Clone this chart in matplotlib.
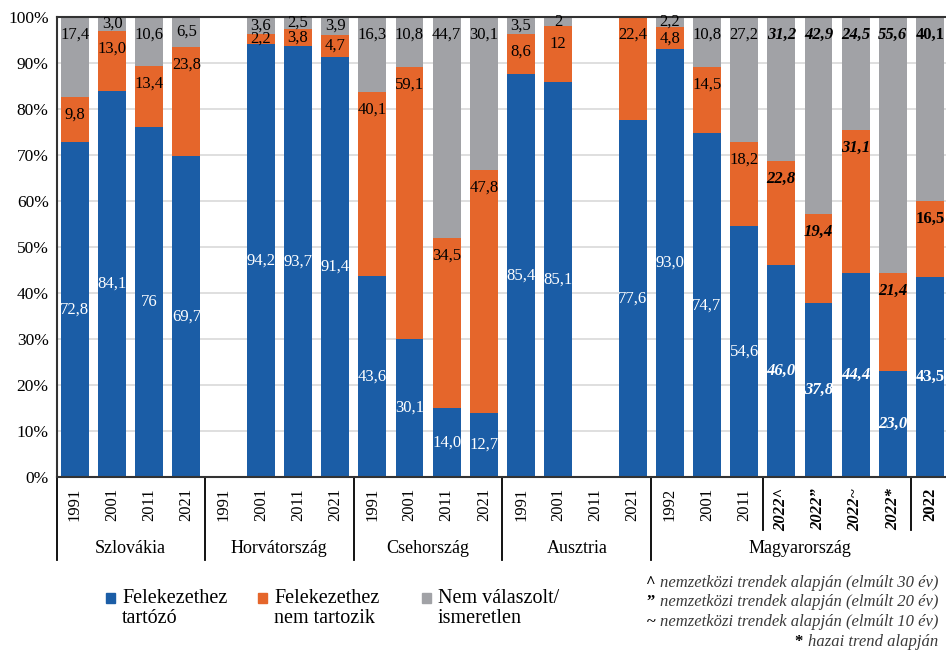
import numpy as np
import matplotlib
import matplotlib.pyplot as plt
from matplotlib.patches import Rectangle
from matplotlib.transforms import blended_transform_factory

matplotlib.use("Agg")

plt.rcParams["font.family"] = ["Liberation Serif", "DejaVu Serif"]

# Categories (one bar per year / scenario)
years = ["1991", "2001", "2011", "2021",
         "1991", "2001", "2011", "2021",
         "1991", "2001", "2011", "2021",
         "1991", "2001", "2011", "2021",
         "1992", "2001", "2011", "2022^", "2022\u201d", "2022~", "2022*", "2022"]
countries = ["Szlovákia", "Horvátország", "Csehország", "Ausztria", "Magyarország"]
group_sizes = [4, 4, 4, 4, 8]

# Series values (None = no data); labels kept as printed in the source
tartozo = ["72,8", "84,1", "76", "69,7",
           None, "94,2", "93,7", "91,4",
           "43,6", "30,1", "14,0", "12,7",
           "85,4", "85,1", None, "77,6",
           "93,0", "74,7", "54,6", "46,0", "37,8", "44,4", "23,0", "43,5"]
nem_tartozik = ["9,8", "13,0", "13,4", "23,8",
                None, "2,2", "3,8", "4,7",
                "40,1", "59,1", "34,5", "47,8",
                "8,6", "12", None, "22,4",
                "4,8", "14,5", "18,2", "22,8", "19,4", "31,1", "21,4", "16,5"]
nem_valaszolt = ["17,4", "3,0", "10,6", "6,5",
                 None, "3,6", "2,5", "3,9",
                 "16,3", "10,8", "44,7", "30,1",
                 "3,5", "2", None, None,
                 "2,2", "10,8", "27,2", "31,2", "42,9", "24,5", "55,6", "40,1"]

series_names = ["Felekezethez\ntartózó", "Felekezethez\nnem tartozik", "Nem válaszolt/\nismeretlen"]
colors = ["#1B5DA6", "#E5662B", "#A1A2A6"]

footnotes = [("^", "nemzetközi trendek alapján (elmúlt 30 év)"),
             ("\u201d", "nemzetközi trendek alapján (elmúlt 20 év)"),
             ("~", "nemzetközi trendek alapján (elmúlt 10 év)"),
             ("*", "hazai trend alapján")]


def to_num(s):
    return 0.0 if s is None else float(s.replace(",", "."))


raw = np.array([[to_num(v) for v in col] for col in (tartozo, nem_tartozik, nem_valaszolt)])
labels = [tartozo, nem_tartozik, nem_valaszolt]
totals = raw.sum(axis=0)
totals[totals == 0] = 1
pct = raw / totals * 100  # 100% stacked

n = len(years)
x = np.arange(n)
x_left = -0.48

fig = plt.figure(figsize=(9.46, 6.5), dpi=100)
ax = fig.add_axes([57 / 946, 173 / 650, 889 / 946, 460 / 650])

bottom = np.zeros(n)
for k in range(3):
    ax.bar(x, pct[k], bottom=bottom, width=0.75, color=colors[k], zorder=2)
    for i in range(n):
        lab = labels[k][i]
        if lab is None:
            continue
        lo, hi = bottom[i], bottom[i] + pct[k][i]
        if k == 0:
            y = (lo + hi) / 2
        else:
            y = max(hi - 3.9, (lo + hi) / 2)
        weight = "normal"
        style = "normal"
        if 19 <= i <= 22:
            weight, style = "bold", "italic"
        elif i == 23:
            weight = "bold"
        ax.text(x[i], y, lab, ha="center", va="center", fontsize=12,
                color="white" if k == 0 else "black",
                fontweight=weight, fontstyle=style, zorder=3)
    bottom += pct[k]

ax.set_xlim(x_left, n - 1 + 0.43)
ax.set_ylim(0, 100)
ax.set_yticks(np.arange(0, 101, 10))
ax.set_yticklabels([f"{v}%" for v in range(0, 101, 10)], fontsize=12.5)
ax.yaxis.grid(True, color="#D9D9D9", linewidth=1.2, zorder=0)
ax.set_axisbelow(True)
ax.tick_params(axis="y", length=0, pad=6)
ax.tick_params(axis="x", length=0, pad=8)

ax.set_xticks(x)
ax.set_xticklabels(years, rotation=90, fontsize=12, va="top")
for i, t in enumerate(ax.get_xticklabels()):
    if 19 <= i <= 22:
        t.set_fontweight("bold")
        t.set_fontstyle("italic")
    elif i == 23:
        t.set_fontweight("bold")

for side in ["top", "left", "bottom"]:
    ax.spines[side].set_color("#333333")
    ax.spines[side].set_linewidth(1.5)
ax.spines["right"].set_visible(False)

# category group separators and names
trans = blended_transform_factory(ax.transData, ax.transAxes)
edges = np.concatenate([[0], np.cumsum(group_sizes)]) - 0.5
for e in edges[:-1]:
    xe = e if e > 0 else x_left
    ax.plot([xe, xe], [0, -0.18], transform=trans, color="black",
            linewidth=1.3, clip_on=False)
for e in [18.5, 22.5]:
    ax.plot([e, e], [0, -0.115], transform=trans, color="black",
            linewidth=1.3, clip_on=False)
for c, (a, b) in zip(countries, zip(edges[:-1], edges[1:])):
    ax.text((a + b) / 2, -0.155, c, transform=trans, ha="center",
            va="center", fontsize=13)

# legend
leg_x = [106, 258, 422]
for k in range(3):
    fig.patches.append(Rectangle((leg_x[k] / 946, 1 - 603 / 650), 9 / 946, 10 / 650,
                                 transform=fig.transFigure, color=colors[k]))
    fig.text((leg_x[k] + 16) / 946, 1 - 589 / 650, series_names[k], ha="left",
             va="top", fontsize=14.5, linespacing=1.05)

# footnotes
for j, (sym, txt) in enumerate(footnotes):
    yy = 1 - (583 + j * 19.5) / 650
    t = fig.text(938 / 946, yy, txt, ha="right", va="center", fontsize=12,
                 fontstyle="italic", color="#3A3A3A")
    ax.annotate(sym + " ", xy=(0, 0.5), xycoords=t, ha="right", va="center",
                fontsize=12, fontweight="bold", color="black")

fig.savefig("out.png", dpi=100)
